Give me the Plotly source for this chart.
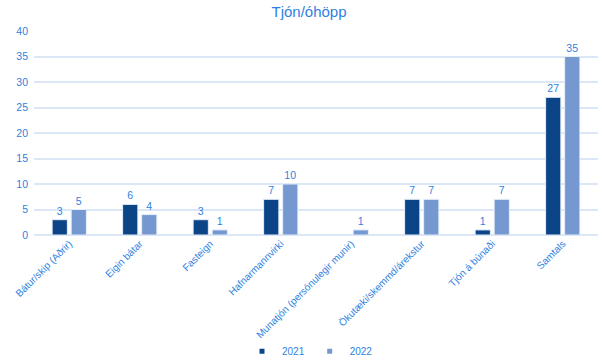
import plotly.graph_objects as go

categories = ["Bátur/skip (Aðrir)", "Eigin bátar", "Fasteign", "Hafnarmannvirki",
              "Munatjón (persónulegir munir)", "Ökutæki/skemmd/árekstur",
              "Tjón á búnaði", "Samtals"]
values_2021 = [3, 6, 3, 7, None, 7, 1, 27]
values_2022 = [5, 4, 1, 10, 1, 7, 7, 35]
series_names = ["2021", "2022"]
series_colors = ["#0b4487", "#7498cf"]

text_color = "#2f7fe0"
font_family = "Liberation Sans, Arial, sans-serif"

fig = go.Figure()
for name, vals, color in zip(series_names, [values_2021, values_2022], series_colors):
    fig.add_trace(go.Bar(
        x=categories, y=vals, name=name, showlegend=False,
        marker=dict(color=color, line=dict(color="#e6eef9", width=1)),
        text=[("" if v is None else str(v)) for v in vals],
        textposition="outside", cliponaxis=False,
        textfont=dict(color=text_color, size=10.5, family=font_family),
    ))
# legend entries with small square markers
for name, color in zip(series_names, series_colors):
    fig.add_trace(go.Scatter(
        x=[None], y=[None], mode="markers", name=name,
        marker=dict(symbol="square", size=5, color=color),
    ))

fig.update_layout(
    width=602, height=361,
    margin=dict(l=34, r=4, t=31, b=126, autoexpand=False),
    paper_bgcolor="white", plot_bgcolor="white",
    barmode="group", bargap=0.46, bargroupgap=0.2,
    font=dict(family=font_family, color=text_color, size=10),
    title=dict(text="Tjón/óhöpp", x=309 / 602, xanchor="center", xref="container",
               y=1 - 12 / 361, yanchor="middle", yref="container",
               font=dict(size=15, color=text_color, family=font_family)),
    legend=dict(orientation="h", x=(310 - 34) / 564, xanchor="center", y=-0.57, yanchor="middle",
                font=dict(size=10, color=text_color), itemwidth=30, traceorder="normal",
                bgcolor="rgba(0,0,0,0)", tracegroupgap=0, itemclick=False),
    showlegend=True,
)
fig.update_yaxes(range=[0, 40], dtick=5, showgrid=True, gridcolor="#dbe7f6", gridwidth=1.5,
                 zeroline=True, zerolinecolor="#dbe7f6", zerolinewidth=1.5,
                 tickfont=dict(size=10.5, color=text_color), ticks="", showline=False,
                 ticklabelstandoff=5, automargin=False)
fig.update_xaxes(tickangle=-45, tickfont=dict(size=10, color=text_color), showline=False,
                 ticks="", automargin=False)

fig.write_html("out.html", config={"displayModeBar": False},
               post_script="document.body.style.margin='0';document.body.style.overflow='hidden';")
